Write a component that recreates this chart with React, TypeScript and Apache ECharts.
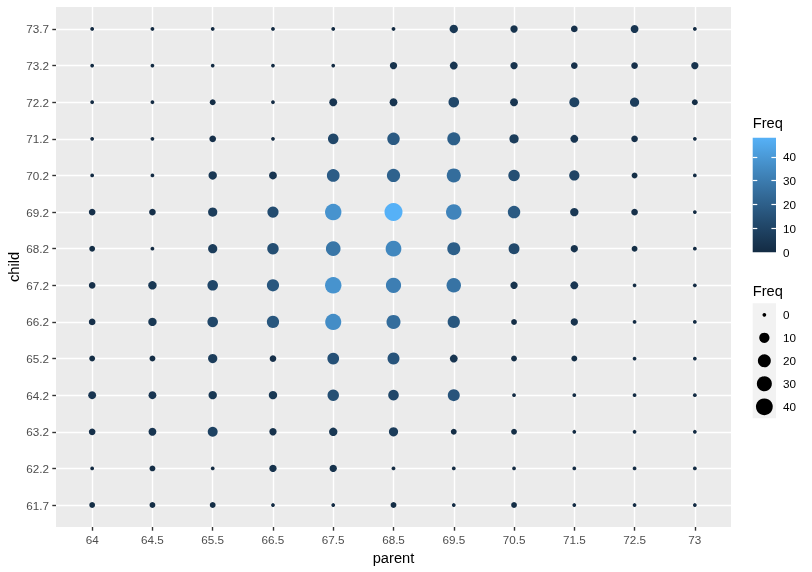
import React, { useEffect, useRef } from "react";
import * as echarts from "echarts";

// ---- data ----
const parentLevels = ["64", "64.5", "65.5", "66.5", "67.5", "68.5", "69.5", "70.5", "71.5", "72.5", "73"];
const childLevels = ["61.7", "62.2", "63.2", "64.2", "65.2", "66.2", "67.2", "68.2", "69.2", "70.2", "71.2", "72.2", "73.2", "73.7"];
// rows follow childLevels, columns follow parentLevels
const freq61_7 = [1, 1, 1, 0, 0, 1, 0, 1, 0, 0, 0];
const freq62_2 = [0, 1, 0, 3, 3, 0, 0, 0, 0, 0, 0];
const freq63_2 = [2, 4, 9, 3, 5, 7, 1, 1, 0, 0, 0];
const freq64_2 = [4, 4, 5, 5, 14, 11, 16, 0, 0, 0, 0];
const freq65_2 = [1, 1, 7, 2, 15, 16, 4, 1, 1, 0, 0];
const freq66_2 = [2, 5, 11, 17, 36, 25, 17, 1, 3, 0, 0];
const freq67_2 = [2, 5, 11, 17, 38, 31, 27, 3, 4, 0, 0];
const freq68_2 = [1, 0, 7, 14, 28, 34, 20, 12, 3, 1, 0];
const freq69_2 = [2, 2, 7, 13, 38, 48, 33, 18, 5, 2, 0];
const freq70_2 = [0, 0, 5, 4, 19, 21, 25, 14, 10, 1, 0];
const freq71_2 = [0, 0, 2, 0, 11, 18, 20, 7, 4, 2, 0];
const freq72_2 = [0, 0, 1, 0, 4, 4, 11, 4, 9, 7, 1];
const freq73_2 = [0, 0, 0, 0, 0, 3, 4, 3, 2, 2, 3];
const freq73_7 = [0, 0, 0, 0, 0, 0, 5, 3, 2, 4, 0];
const freqRows = [freq61_7, freq62_2, freq63_2, freq64_2, freq65_2, freq66_2, freq67_2, freq68_2, freq69_2, freq70_2, freq71_2, freq72_2, freq73_2, freq73_7];

const freqMin = 0;
const freqMax = 48;
const colorBarTicks = [0, 10, 20, 30, 40];
const sizeBreaks = [0, 10, 20, 30, 40];
const gradientColors = ["#132B43", "#22496C", "#336A98", "#448DC6", "#56B1F7"];

function diameter(v: number): number {
  const s = 1 + 5 * Math.sqrt((v - freqMin) / (freqMax - freqMin));
  return s * 2.845 + 0.945;
}

export default function App() {
  const ref = useRef<HTMLDivElement>(null);

  useEffect(() => {
    if (!ref.current) return;
    const chart = echarts.init(ref.current, undefined, { renderer: "svg" });

    const pts: number[][] = [];
    freqRows.forEach((row, i) => {
      row.forEach((v, j) => pts.push([j, i, v]));
    });
    const xIdx = parentLevels.map((_, i) => i);
    const yIdx = childLevels.map((_, i) => i);

    const font = "Liberation Sans, Arial, sans-serif";
    const tickStyle = { color: "#333333", width: 1.4 };
    const gridLine = { show: true, lineStyle: { color: "#FFFFFF", width: 1.4 } };

    const option: any = {
      animation: false,
      textStyle: { fontFamily: font },
      grid: [
        { left: 56, top: 7, width: 675, height: 520, show: true, backgroundColor: "#EBEBEB", borderWidth: 0, containLabel: false, outerBoundsMode: "none" },
        { left: 752.7, top: 137.7, width: 23.3, height: 114.6, containLabel: false, outerBoundsMode: "none" },
        { left: 752.7, top: 303.3, width: 23.3, height: 115, show: true, backgroundColor: "#F2F2F2", borderWidth: 0, containLabel: false, outerBoundsMode: "none" },
      ],
      xAxis: [
        {
          gridIndex: 0,
          type: "value",
          min: -0.6,
          max: parentLevels.length - 1 + 0.6,
          axisLine: { show: false, onZero: false },
          axisTick: { show: true, customValues: xIdx, length: 3.7, lineStyle: tickStyle },
          axisLabel: {
            customValues: xIdx,
            formatter: (v: number) => parentLevels[Math.round(v)] ?? "",
            color: "#4D4D4D",
            fontSize: 11.7,
            margin: 6.6,
            fontFamily: font,
          },
          splitLine: gridLine,
          name: "parent",
          nameLocation: "middle",
          nameGap: 19,
          nameTextStyle: { color: "#000000", fontSize: 14.67, fontFamily: font },
        },
        { gridIndex: 1, type: "value", show: false, min: 0, max: 1 },
        { gridIndex: 2, type: "value", show: false, min: 0, max: 1 },
      ],
      yAxis: [
        {
          gridIndex: 0,
          type: "value",
          min: -0.6,
          max: childLevels.length - 1 + 0.6,
          axisLine: { show: false, onZero: false },
          axisTick: { show: true, customValues: yIdx, length: 3.7, lineStyle: tickStyle },
          axisLabel: {
            customValues: yIdx,
            formatter: (v: number) => childLevels[Math.round(v)] ?? "",
            color: "#4D4D4D",
            fontSize: 11.7,
            margin: 7,
            fontFamily: font,
          },
          splitLine: gridLine,
          name: "child",
          nameLocation: "middle",
          nameGap: 35,
          nameMoveOverlap: false,
          nameRotate: 90,
          nameTextStyle: { color: "#000000", fontSize: 14.67, fontFamily: font },
        },
        {
          gridIndex: 1,
          type: "value",
          min: freqMin,
          max: freqMax,
          position: "right",
          z: 10,
          axisLine: { show: false, onZero: false },
          axisTick: { show: true, inside: true, customValues: colorBarTicks.filter((t) => t > freqMin), length: 4.6, lineStyle: { color: "#FFFFFF", width: 1.2 } },
          axisLabel: { customValues: colorBarTicks, color: "#000000", fontSize: 11.7, margin: 7, fontFamily: font },
          splitLine: { show: false },
        },
        {
          gridIndex: 1,
          type: "value",
          min: freqMin,
          max: freqMax,
          position: "left",
          z: 10,
          axisLine: { show: false, onZero: false },
          axisTick: { show: true, inside: true, customValues: colorBarTicks.filter((t) => t > freqMin), length: 4.6, lineStyle: { color: "#FFFFFF", width: 1.2 } },
          axisLabel: { show: false },
          splitLine: { show: false },
        },
        {
          gridIndex: 2,
          type: "category",
          data: sizeBreaks.map(String),
          inverse: true,
          position: "right",
          axisLine: { show: false, onZero: false },
          axisTick: { show: false },
          axisLabel: { color: "#000000", fontSize: 11.7, margin: 7, fontFamily: font },
          splitLine: { show: false },
        },
      ],
      visualMap: {
        type: "continuous",
        show: false,
        seriesIndex: 0,
        dimension: 2,
        min: freqMin,
        max: freqMax,
        inRange: { color: gradientColors },
      },
      series: [
        {
          type: "scatter",
          xAxisIndex: 0,
          yAxisIndex: 0,
          data: pts,
          symbol: "circle",
          symbolSize: (val: number[]) => diameter(val[2]),
          itemStyle: { opacity: 1 },
          emphasis: { disabled: true },
        },
        {
          type: "scatter",
          xAxisIndex: 2,
          yAxisIndex: 3,
          data: sizeBreaks.map((b, i) => [0.5, i, b]),
          symbol: "circle",
          symbolSize: (val: number[]) => diameter(val[2]),
          itemStyle: { color: "#000000", opacity: 1 },
          emphasis: { disabled: true },
        },
      ],
      graphic: [
        {
          type: "rect",
          z: 0,
          shape: { x: 752.7, y: 137.7, width: 23.3, height: 114.6 },
          style: {
            fill: new echarts.graphic.LinearGradient(
              0, 1, 0, 0,
              gradientColors.map((c, i) => ({ offset: i / (gradientColors.length - 1), color: c }))
            ),
          },
        },
        {
          type: "text",
          x: 752.7,
          y: 123,
          style: { text: "Freq", fill: "#000000", fontSize: 14.67, fontFamily: font, verticalAlign: "middle", align: "left" },
        },
        {
          type: "text",
          x: 752.7,
          y: 291,
          style: { text: "Freq", fill: "#000000", fontSize: 14.67, fontFamily: font, verticalAlign: "middle", align: "left" },
        },
      ],
    };

    chart.setOption(option);
    return () => chart.dispose();
  }, []);

  return <div ref={ref} style={{ position: "fixed", left: 0, top: 0, width: 812, height: 572 }} />;
}
